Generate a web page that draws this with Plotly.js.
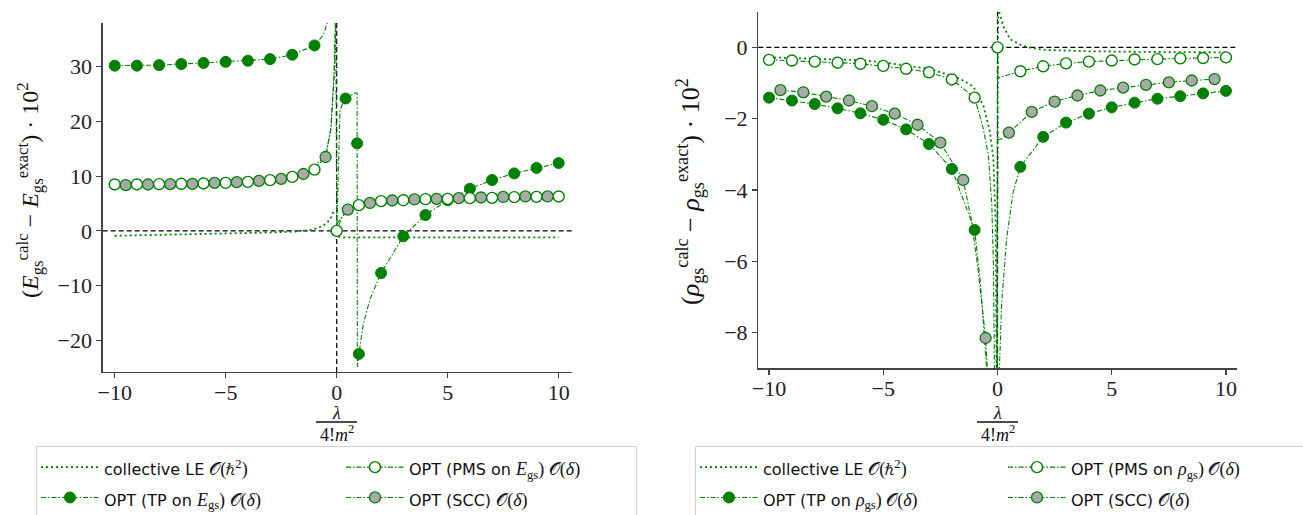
<!DOCTYPE html>
<html>
<head>
<meta charset="utf-8">
<script src="https://cdn.plot.ly/plotly-3.0.1.min.js"></script>
<style>html,body{margin:0;padding:0;background:#fff;}#chart{width:1303px;height:515px;}</style>
</head>
<body>
<div id="chart"></div>
<script>
// ---------- Left panel: (E_calc - E_exact) * 10^2 ----------
// collective LE O(hbar^2) (dotted curve)
const eLE_x = [-10, -7.7, -4.66, -3, -2, -1.65, -1.2, -0.8, -0.45, -0.23, -0.15, null, 0.07, 0.3, 1, 3, 6, 10];
const eLE_y = [-0.9, -0.73, -0.48, -0.3, -0.15, -0.05, 0.13, 0.6, 1.35, 2.6, 3.5, null, -1.1, -1.2, -1.2, -1.2, -1.2, -1.2];
// OPT (TP on E_gs): markers
const eTP_x = [-10, -9, -8, -7, -6, -5, -4, -3, -2, -1, 0.4, 0.92, 1, 2, 3, 4, 5, 6, 7, 8, 9, 10];
const eTP_y = [30.2, 30.2, 30.3, 30.5, 30.7, 30.9, 31.1, 31.4, 32.2, 33.9, 24.2, 16.0, -22.5, -7.7, -1.0, 2.9, 5.6, 7.7, 9.3, 10.5, 11.5, 12.4];
// OPT (TP on E_gs): curve
const eTPc_x = [-10, -9, -8, -7, -6, -5, -4, -3, -2, -1, -0.6, -0.38, null, 0.01, 0.15, 0.3, 0.4, 0.82, 0.92, 0.93, 1, 1.2, 1.5, 2, 3, 4, 5, 6, 7, 8, 9, 10];
const eTPc_y = [30.2, 30.2, 30.3, 30.5, 30.7, 30.9, 31.1, 31.4, 32.2, 33.9, 35.8, 38.5, null, 1.3, 22, 23.6, 24.2, 25.2, 25.2, -24.9, -22.5, -17, -12.5, -7.7, -1.0, 2.9, 5.6, 7.7, 9.3, 10.5, 11.5, 12.4];
// OPT (PMS on E_gs): markers
const ePMS_x = [-10, -9, -8, -7, -6, -5, -4, -3, -2, -1, 0, 1, 2, 3, 4, 5, 6, 7, 8, 9, 10];
const ePMS_y = [8.48, 8.48, 8.54, 8.6, 8.67, 8.78, 8.96, 9.27, 9.87, 11.2, 0, 4.7, 5.43, 5.6, 5.8, 5.85, 5.98, 6.04, 6.16, 6.22, 6.29];
// OPT (PMS on E_gs): curve
const ePMSc_x = [-10, -9, -8, -7, -6, -5, -4, -3, -2, -1, -0.5, -0.25, -0.1, -0.04, 0, 0.25, 0.6, 1, 2, 3, 4, 5, 6, 7, 8, 9, 10];
const ePMSc_y = [8.48, 8.48, 8.54, 8.6, 8.67, 8.78, 8.96, 9.27, 9.87, 11.2, 13.6, 19, 30, 39, 0, 2.6, 4.2, 4.7, 5.43, 5.6, 5.8, 5.85, 5.98, 6.04, 6.16, 6.22, 6.29];
// OPT (SCC): markers
const eSCC_x = [-9.5, -8.5, -7.5, -6.5, -5.5, -4.5, -3.5, -2.5, -1.5, -0.5, 0.5, 1.5, 2.5, 3.5, 4.5, 5.5, 6.5, 7.5, 8.5, 9.5];
const eSCC_y = [8.35, 8.48, 8.54, 8.6, 8.78, 8.9, 9.14, 9.5, 10.4, 13.5, 3.9, 5.1, 5.55, 5.74, 5.85, 5.98, 6.1, 6.2, 6.29, 6.29];
// OPT (SCC): curve
const eSCCc_x = [-9.5, -8.5, -7.5, -6.5, -5.5, -4.5, -3.5, -2.5, -1.5, -0.5, -0.27, -0.12, -0.06, null, 0.01, 0.5, 1.5, 2.5, 3.5, 4.5, 5.5, 6.5, 7.5, 8.5, 9.5];
const eSCCc_y = [8.35, 8.48, 8.54, 8.6, 8.78, 8.9, 9.14, 9.5, 10.4, 13.5, 18.4, 28, 38.5, null, 1.3, 3.9, 5.1, 5.55, 5.74, 5.85, 5.98, 6.1, 6.2, 6.29, 6.29];

// ---------- Right panel: (rho_calc - rho_exact) * 10^2 ----------
const rLE_x = [-10, -8, -6, -5, -4, -3, -2, -1.64, -1.06, -0.62, -0.33, -0.18, -0.08, -0.03, 0.03, 0.08, 0.25, 0.55, 1.06, 1.5, 2, 4, 7, 10];
const rLE_y = [-0.28, -0.31, -0.36, -0.42, -0.5, -0.6, -0.8, -0.88, -1.1, -1.63, -2.37, -3.11, -5, -10, 1.6, 0.98, 0.6, 0.23, 0.05, -0.02, -0.07, -0.11, -0.13, -0.14];
const rTP_x = [-10, -9, -8, -7, -6, -5, -4, -3, -2, -1, 1, 2, 3, 4, 5, 6, 7, 8, 9, 10];
const rTP_y = [-1.41, -1.49, -1.59, -1.71, -1.85, -2.03, -2.3, -2.71, -3.41, -5.12, -3.35, -2.51, -2.11, -1.86, -1.68, -1.55, -1.44, -1.37, -1.29, -1.22];
const rTPc_x = [-10, -9, -8, -7, -6, -5, -4, -3, -2, -1, -0.75, -0.6, -0.47, null, 0.08, 0.18, 0.4, 0.69, 1, 2, 3, 4, 5, 6, 7, 8, 9, 10];
const rTPc_y = [-1.41, -1.49, -1.59, -1.71, -1.85, -2.03, -2.3, -2.71, -3.41, -5.12, -6.6, -7.9, -9.1, null, -9.1, -7.2, -5.35, -4.05, -3.35, -2.51, -2.11, -1.86, -1.68, -1.55, -1.44, -1.37, -1.29, -1.22];
const rPMS_x = [-10, -9, -8, -7, -6, -5, -4, -3, -2, -1, 0, 1, 2, 3, 4, 5, 6, 7, 8, 9, 10];
const rPMS_y = [-0.35, -0.37, -0.4, -0.43, -0.46, -0.52, -0.6, -0.7, -0.9, -1.41, 0, -0.67, -0.53, -0.45, -0.4, -0.37, -0.34, -0.33, -0.31, -0.3, -0.28];
const rPMSc_x = [-10, -9, -8, -7, -6, -5, -4, -3, -2, -1, -0.62, -0.4, -0.25, -0.18, -0.13, -0.02, 0, 0.02, 0.11, 1, 2, 3, 4, 5, 6, 7, 8, 9, 10];
const rPMSc_y = [-0.35, -0.37, -0.4, -0.43, -0.46, -0.52, -0.6, -0.7, -0.9, -1.41, -2.28, -3.02, -4.4, -6.1, -9.2, -12, 0, -0.88, -0.84, -0.67, -0.53, -0.45, -0.4, -0.37, -0.34, -0.33, -0.31, -0.3, -0.28];
const rSCC_x = [-9.5, -8.5, -7.5, -6.5, -5.5, -4.5, -3.5, -2.5, -1.5, -0.52, 0.5, 1.5, 2.5, 3.5, 4.5, 5.5, 6.5, 7.5, 8.5, 9.5];
const rSCC_y = [-1.2, -1.26, -1.38, -1.49, -1.65, -1.86, -2.17, -2.67, -3.72, -8.15, -2.39, -1.81, -1.52, -1.35, -1.21, -1.13, -1.05, -0.98, -0.93, -0.89];
const rSCCc_x = [-9.5, -8.5, -7.5, -6.5, -5.5, -4.5, -3.5, -2.5, -1.5, -1.13, -0.84, -0.52, -0.42, null, 0.01, 0.18, 0.5, 1.5, 2.5, 3.5, 4.5, 5.5, 6.5, 7.5, 8.5, 9.5];
const rSCCc_y = [-1.2, -1.26, -1.38, -1.49, -1.65, -1.86, -2.17, -2.67, -3.72, -4.88, -6.28, -8.15, -9.3, null, -2.6, -2.56, -2.39, -1.81, -1.52, -1.35, -1.21, -1.13, -1.05, -0.98, -0.93, -0.89];

// ---------- labels ----------
const MATH = 'font-family:Liberation Serif;font-size:18px';
const TXT = 'font-size:16px';
const O = '𝒪';
const legLeft = {
  LE: `<span style="${TXT}">collective LE </span><span style="${MATH}">${O}(ℏ<sup>2</sup>)</span>`,
  TP: `<span style="${TXT}">OPT (TP on </span><span style="${MATH}"><i>E</i><sub>gs</sub>) ${O}(<i>δ</i>)</span>`,
  PMS: `<span style="${TXT}">OPT (PMS on </span><span style="${MATH}"><i>E</i><sub>gs</sub>) ${O}(<i>δ</i>)</span>`,
  SCC: `<span style="${TXT}">OPT (SCC) </span><span style="${MATH}">${O}(<i>δ</i>)</span>`
};
const legRight = {
  LE: legLeft.LE,
  TP: `<span style="${TXT}">OPT (TP on </span><span style="${MATH}"><i>ρ</i><sub>gs</sub>) ${O}(<i>δ</i>)</span>`,
  PMS: `<span style="${TXT}">OPT (PMS on </span><span style="${MATH}"><i>ρ</i><sub>gs</sub>) ${O}(<i>δ</i>)</span>`,
  SCC: legLeft.SCC
};
const yTitleLeft = '(<i>E</i><sub>gs</sub><sup>calc</sup> − <i>E</i><sub>gs</sub><sup>exact</sup>) · 10<sup>2</sup>';
const yTitleRight = '(<i>ρ</i><sub>gs</sub><sup>calc</sup> − <i>ρ</i><sub>gs</sub><sup>exact</sup>) · 10<sup>2</sup>';
const xTicks = [-10, -5, 0, 5, 10];
const yTicksLeft = [-20, -10, 0, 10, 20, 30];
const yTicksRight = [-8, -6, -4, -2, 0];

// ---------- styles ----------
const G = '#008000';
const DD = '5px,2px,1.5px,2px';
const DOT = '2px,3px';
const SERIF = 'Liberation Serif, Times New Roman, serif';
const mk = {
  TP: {size: 11, color: G, line: {color: G, width: 1}},
  PMS: {size: 11, color: '#ffffff', line: {color: G, width: 1.4}},
  SCC: {size: 11, color: '#a9a9a9', line: {color: G, width: 1.3}}
};

function curve(x, y, xa, ya, dash, w) {
  return {x, y, xaxis: xa, yaxis: ya, type: 'scatter', mode: 'lines', connectgaps: false,
    line: {color: G, width: w, dash}, showlegend: false, hoverinfo: 'skip'};
}
function marks(x, y, xa, ya, m) {
  return {x, y, xaxis: xa, yaxis: ya, type: 'scatter', mode: 'markers', marker: m,
    showlegend: false};
}
function legItem(name, leg, group, m, dash, w, lw) {
  const t = {x: [null], y: [null], xaxis: 'x', yaxis: 'y', type: 'scatter', mode: m ? 'lines+markers' : 'lines',
    line: {color: G, width: w, dash}, name, legend: leg, legendgroup: group, showlegend: true};
  if (m) t.marker = m;
  if (lw) t.legendwidth = lw;
  return t;
}

const data = [
  curve(eLE_x, eLE_y, 'x', 'y', DOT, 1.8),
  curve(eTPc_x, eTPc_y, 'x', 'y', DD, 1.1),
  curve(ePMSc_x, ePMSc_y, 'x', 'y', DD, 1.1),
  curve(eSCCc_x, eSCCc_y, 'x', 'y', DD, 1.1),
  marks(eTP_x, eTP_y, 'x', 'y', mk.TP),
  marks(ePMS_x, ePMS_y, 'x', 'y', mk.PMS),
  marks(eSCC_x, eSCC_y, 'x', 'y', mk.SCC),
  curve(rLE_x, rLE_y, 'x2', 'y2', DOT, 1.8),
  curve(rTPc_x, rTPc_y, 'x2', 'y2', DD, 1.1),
  curve(rPMSc_x, rPMSc_y, 'x2', 'y2', DD, 1.1),
  curve(rSCCc_x, rSCCc_y, 'x2', 'y2', DD, 1.1),
  marks(rTP_x, rTP_y, 'x2', 'y2', mk.TP),
  marks(rPMS_x, rPMS_y, 'x2', 'y2', mk.PMS),
  marks(rSCC_x, rSCC_y, 'x2', 'y2', mk.SCC),
  legItem(legLeft.LE, 'legend', 'a', null, DOT, 1.8),
  legItem(legLeft.TP, 'legend', 'a', mk.TP, DD, 1.1),
  legItem(legLeft.PMS, 'legend', 'b', mk.PMS, DD, 1.1, 222),
  legItem(legLeft.SCC, 'legend', 'b', mk.SCC, DD, 1.1, 222),
  legItem(legRight.LE, 'legend2', 'c', null, DOT, 1.8),
  legItem(legRight.TP, 'legend2', 'c', mk.TP, DD, 1.1),
  legItem(legRight.PMS, 'legend2', 'd', mk.PMS, DD, 1.1, 230),
  legItem(legRight.SCC, 'legend2', 'd', mk.SCC, DD, 1.1, 230)
];

const W = 1303, H = 515;
const px = v => v / W, py = v => 1 - v / H;
const tickFont = {family: SERIF, size: 22, color: '#222'};
const axBase = {showgrid: false, zeroline: false, showline: true, linecolor: '#444', linewidth: 1.3,
  ticks: 'outside', ticklen: 5, tickwidth: 1.2, tickcolor: '#444', tickfont: tickFont, tickmode: 'array', fixedrange: true};

const legBase = {orientation: 'h', traceorder: 'grouped', xanchor: 'left', yanchor: 'top', y: py(446),
  bgcolor: '#ffffff', bordercolor: '#d0d0d0', borderwidth: 1, font: {family: 'DejaVu Sans', size: 21, color: '#111'},
  itemwidth: 58, entrywidthmode: 'pixels', tracegroupgap: 0};

const fracFont = {family: SERIF, size: 18, color: '#111'};
function fraction(cx) {
  return [
    {xref: 'paper', yref: 'paper', x: px(cx), y: py(413), text: '<i>λ</i>', showarrow: false, xanchor: 'center', yanchor: 'middle', font: fracFont},
    {xref: 'paper', yref: 'paper', x: px(cx), y: py(433), text: '4!<i>m</i><sup>2</sup>', showarrow: false, xanchor: 'center', yanchor: 'middle', font: fracFont}
  ];
}

const layout = {
  width: W, height: H, margin: {l: 0, r: 0, t: 0, b: 0, autoexpand: false},
  paper_bgcolor: '#ffffff', plot_bgcolor: '#ffffff', showlegend: true,
  xaxis: Object.assign({}, axBase, {domain: [px(102.7), px(572)], range: [-10.54, 10.6], tickvals: xTicks, anchor: 'y', ticklabelstandoff: -5}),
  yaxis: Object.assign({}, axBase, {domain: [py(372), py(23)], range: [-25.8, 38], tickvals: yTicksLeft, anchor: 'x'}),
  xaxis2: Object.assign({}, axBase, {domain: [px(758.3), px(1236.7)], range: [-10.47, 10.47], tickvals: xTicks, anchor: 'y2', ticklabelstandoff: -5}),
  yaxis2: Object.assign({}, axBase, {domain: [py(368.3), py(11.7)], range: [-9, 1], tickvals: yTicksRight, anchor: 'x2'}),
  legend: Object.assign({}, legBase, {x: px(36), entrywidth: 232}),
  legend2: Object.assign({}, legBase, {x: px(695), entrywidth: 235}),
  shapes: [
    {type: 'line', xref: 'x', yref: 'y domain', x0: 0, x1: 0, y0: 0, y1: 1, line: {color: '#000', width: 1.2, dash: '5px,3px'}, layer: 'below'},
    {type: 'line', xref: 'x domain', yref: 'y', x0: 0, x1: 1, y0: 0, y1: 0, line: {color: '#000', width: 1.2, dash: '5px,3px'}, layer: 'below'},
    {type: 'line', xref: 'x2', yref: 'y2 domain', x0: 0, x1: 0, y0: 0, y1: 1, line: {color: '#000', width: 1.2, dash: '5px,3px'}, layer: 'below'},
    {type: 'line', xref: 'x2 domain', yref: 'y2', x0: 0, x1: 1, y0: 0, y1: 0, line: {color: '#000', width: 1.2, dash: '5px,3px'}, layer: 'below'},
    {type: 'line', xref: 'paper', yref: 'paper', x0: px(316), x1: px(357), y0: py(422), y1: py(422), line: {color: '#111', width: 1.3}},
    {type: 'line', xref: 'paper', yref: 'paper', x0: px(977), x1: px(1018), y0: py(422), y1: py(422), line: {color: '#111', width: 1.3}}
  ],
  annotations: [
    {xref: 'paper', yref: 'paper', x: px(30), y: py(190), text: yTitleLeft, textangle: -90, showarrow: false,
      xanchor: 'center', yanchor: 'middle', font: {family: SERIF, size: 24, color: '#111'}},
    {xref: 'paper', yref: 'paper', x: px(690), y: py(192), text: yTitleRight, textangle: -90, showarrow: false,
      xanchor: 'center', yanchor: 'middle', font: {family: SERIF, size: 26, color: '#111'}}
  ].concat(fraction(336.7), fraction(997.5))
};

Plotly.newPlot('chart', data, layout, {staticPlot: true, displayModeBar: false});
</script>
</body>
</html>
